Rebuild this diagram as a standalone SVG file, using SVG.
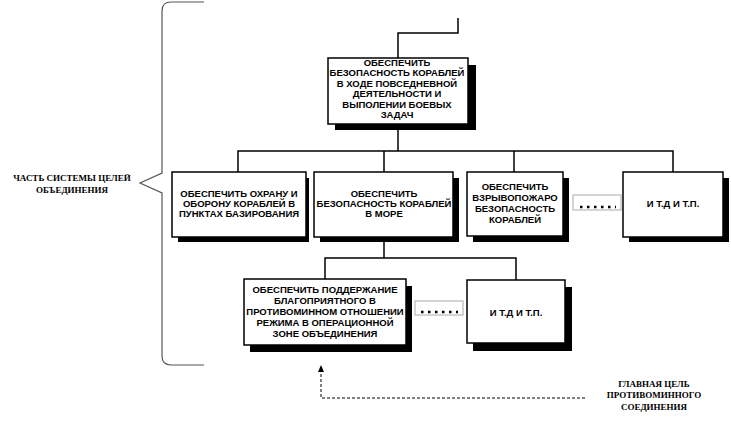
<svg xmlns="http://www.w3.org/2000/svg" width="731" height="421" viewBox="0 0 731 421">
<defs>
<style>
.box{fill:#fff;stroke:#000;stroke-width:1.5}
.sh{fill:#000}
.t{font-family:"Liberation Sans",Arial,sans-serif;font-weight:bold;font-size:9.5px;text-anchor:middle;fill:#000}
.s{font-family:"Liberation Serif","Times New Roman",serif;font-weight:bold;font-size:9px;text-anchor:middle;fill:#000}
.ln{fill:none;stroke:#000;stroke-width:1.5}
.dot{fill:#fff;stroke:#aaa;stroke-width:1}
.dots{stroke:#000;stroke-width:2.5;stroke-dasharray:2.5,4.5}
</style>
</defs>
<rect width="731" height="421" fill="#fff"/>

<g id="connectors">
<path class="ln" d="M458,18 V33 H398 V58"/>
<path class="ln" d="M398,124 V151"/>
<path class="ln" d="M238,172 V151 H673 V172"/>
<path class="ln" d="M384,151 V172"/>
<path class="ln" d="M514,151 V172"/>
<path class="ln" d="M384,237 V258"/>
<path class="ln" d="M325,279 V258 H516 V280"/>
<path fill="none" stroke="#000" stroke-width="1" stroke-dasharray="3,2" d="M585,398 H321 V369"/>
<path d="M318,372 L321,365 L324,372 Z" fill="#000"/>
</g>

<g id="brace">
<path fill="none" stroke="#555" stroke-width="1.2" d="M204,2 H171 Q162,2 162,11 V173 L140,183 L162,193 V356 Q162,365 171,365 H204"/>
</g>

<g id="label-left">
<text class="s" x="72" y="181">ЧАСТЬ СИСТЕМЫ ЦЕЛЕЙ</text>
<text class="s" x="72" y="193">ОБЪЕДИНЕНИЯ</text>
</g>

<g id="label-right">
<text class="s" x="654" y="387">ГЛАВНАЯ ЦЕЛЬ</text>
<text class="s" x="654" y="398">ПРОТИВОМИННОГО</text>
<text class="s" x="654" y="410">СОЕДИНЕНИЯ</text>
</g>

<g id="n-main">
<rect class="sh" x="335" y="65" width="141" height="65"/>
<rect class="box" x="328" y="58" width="140" height="66"/>
<text class="t" x="397" y="65.5">ОБЕСПЕЧИТЬ</text>
<text class="t" x="397" y="76">БЕЗОПАСНОСТЬ КОРАБЛЕЙ</text>
<text class="t" x="397" y="86.5">В ХОДЕ ПОВСЕДНЕВНОЙ</text>
<text class="t" x="397" y="97">ДЕЯТЕЛЬНОСТИ И</text>
<text class="t" x="397" y="107.5">ВЫПОЛЕНИИ БОЕВЫХ</text>
<text class="t" x="397" y="118">ЗАДАЧ</text>
</g>

<g id="n-base">
<rect class="sh" x="178" y="178" width="131" height="64"/>
<rect class="box" x="172" y="172" width="134" height="65"/>
<text class="t" x="239" y="197">ОБЕСПЕЧИТЬ ОХРАНУ И</text>
<text class="t" x="239" y="207">ОБОРОНУ КОРАБЛЕЙ В</text>
<text class="t" x="239" y="217">ПУНКТАХ БАЗИРОВАНИЯ</text>
</g>

<g id="n-sea">
<rect class="sh" x="320" y="178" width="139" height="64"/>
<rect class="box" x="314" y="172" width="139" height="65"/>
<text class="t" x="384" y="197">ОБЕСПЕЧИТЬ</text>
<text class="t" x="384" y="207">БЕЗОПАСНОСТЬ КОРАБЛЕЙ</text>
<text class="t" x="384" y="217">В МОРЕ</text>
</g>

<g id="n-fire">
<rect class="sh" x="473" y="178" width="96" height="64"/>
<rect class="box" x="467" y="172" width="96" height="64"/>
<text class="t" x="515" y="190">ОБЕСПЕЧИТЬ</text>
<text class="t" x="515" y="201">ВЗРЫВОПОЖАРО</text>
<text class="t" x="515" y="212">БЕЗОПАСНОСТЬ</text>
<text class="t" x="515" y="223">КОРАБЛЕЙ</text>
</g>

<g id="n-dots1">
<rect class="dot" x="573" y="195" width="48" height="15"/>
<line class="dots" x1="580" y1="207" x2="616" y2="207"/>
</g>

<g id="n-etc1">
<rect class="sh" x="629" y="178" width="100" height="64"/>
<rect class="box" x="623" y="172" width="100" height="65"/>
<text class="t" x="673" y="207">И Т.Д И Т.П.</text>
</g>

<g id="n-mine">
<rect class="sh" x="250" y="286" width="162" height="66"/>
<rect class="box" x="244" y="279" width="162" height="66"/>
<text class="t" x="325" y="292.5">ОБЕСПЕЧИТЬ ПОДДЕРЖАНИЕ</text>
<text class="t" x="325" y="303.5">БЛАГОПРИЯТНОГО В</text>
<text class="t" x="325" y="314.5">ПРОТИВОМИННОМ ОТНОШЕНИИ</text>
<text class="t" x="325" y="325.5">РЕЖИМА В ОПЕРАЦИОННОЙ</text>
<text class="t" x="325" y="336.5">ЗОНЕ ОБЪЕДИНЕНИЯ</text>
</g>

<g id="n-dots2">
<rect class="dot" x="415" y="301" width="48" height="14"/>
<line class="dots" x1="421" y1="312" x2="458" y2="312"/>
</g>

<g id="n-etc2">
<rect class="sh" x="473" y="287" width="99" height="64"/>
<rect class="box" x="467" y="280" width="98" height="63"/>
<text class="t" x="516" y="316">И Т.Д И Т.П.</text>
</g>
</svg>
